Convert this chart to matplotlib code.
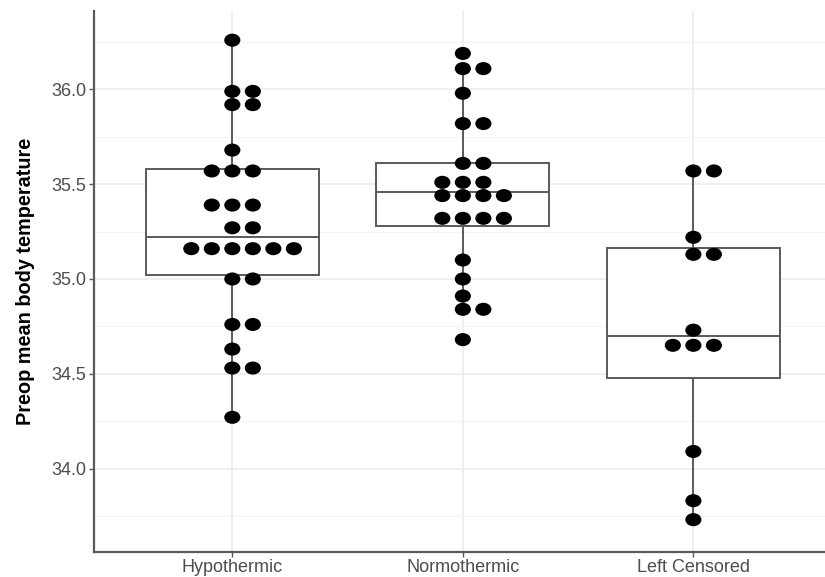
#!/usr/bin/env python3

import matplotlib
matplotlib.use("Agg")
import matplotlib.pyplot as plt
import numpy as np
from matplotlib.markers import MarkerStyle
from matplotlib.path import Path

# Data (dotplot bin centres, repeated per dot)
groups = ["Hypothermic", "Normothermic", "Left Censored"]

hypothermic = [36.26, 35.99, 35.99, 35.92, 35.92, 35.68,
               35.57, 35.57, 35.57, 35.39, 35.39, 35.39, 35.27, 35.27,
               35.16, 35.16, 35.16, 35.16, 35.16, 35.16,
               35.00, 35.00, 34.76, 34.76, 34.63, 34.53, 34.53, 34.27]
normothermic = [36.19, 36.11, 36.11, 35.98, 35.82, 35.82, 35.61, 35.61,
                35.51, 35.51, 35.51, 35.44, 35.44, 35.44, 35.44,
                35.32, 35.32, 35.32, 35.32, 35.10, 35.00, 34.91,
                34.84, 34.84, 34.68]
left_censored = [35.57, 35.57, 35.22, 35.13, 35.13, 34.73,
                 34.65, 34.65, 34.65, 34.09, 33.83, 33.73]

# Box statistics
q1 = [35.02, 35.28, 34.48]
median = [35.22, 35.46, 34.70]
q3 = [35.58, 35.61, 35.165]
whisker_lo = [34.27, 34.84, 33.73]
whisker_hi = [36.26, 36.11, 35.57]

values = [hypothermic, normothermic, left_censored]

fig = plt.figure(figsize=(8.25, 5.77), dpi=100)
ax = fig.add_axes([94 / 825, 25.3 / 577, (831.7 - 94) / 825, (551.7 - 11) / 577])

positions = np.arange(1, len(groups) + 1)

# Grid like ggplot
ax.set_yticks(np.arange(34.0, 36.01, 0.5))
ax.set_yticks(np.arange(33.75, 36.4, 0.5), minor=True)
ax.grid(True, which="major", color="#EBEBEB", linewidth=1.1, zorder=0)
ax.grid(True, which="minor", axis="y", color="#F4F4F4", linewidth=0.8, zorder=0)
ax.set_axisbelow(True)

stats = []
for i in range(len(groups)):
    stats.append({
        "med": median[i], "q1": q1[i], "q3": q3[i],
        "whislo": whisker_lo[i], "whishi": whisker_hi[i], "fliers": [],
    })

line = dict(color="#5A5A5A", linewidth=1.4)
ax.bxp(stats, positions=positions, widths=0.75, showcaps=False,
       patch_artist=True, showfliers=False,
       boxprops=dict(facecolor="white", edgecolor="#5A5A5A", linewidth=1.4),
       whiskerprops=line, medianprops=line, zorder=2)

# Elliptical dot marker (reference is stretched horizontally)
circle = Path.unit_circle()
ellipse = Path(circle.vertices * np.array([1.0, 0.81]), circle.codes)
dot = MarkerStyle(ellipse)

step = 0.089  # horizontal spacing between stacked dots
for pos, vals in zip(positions, values):
    vals = np.array(vals)
    for v in np.unique(vals):
        n = int(np.sum(vals == v))
        offsets = np.arange(n) - (n - 1) // 2
        ax.scatter(pos + offsets * step, np.full(n, v), marker=dot, s=135,
                   color="black", edgecolors="none", zorder=3)

ax.set_xlim(0.4, 3.6)
ax.set_ylim(33.561, 36.414)
ax.set_xticks(positions)
ax.set_xticklabels(groups)
ax.set_yticklabels([f"{t:.1f}" for t in np.arange(34.0, 36.01, 0.5)])

for side in ["top", "right"]:
    ax.spines[side].set_visible(False)
for side in ["left", "bottom"]:
    ax.spines[side].set_color("#5A5A5A")
    ax.spines[side].set_linewidth(1.6)

ax.tick_params(which="major", length=3.5, width=1, color="#5A5A5A",
               labelcolor="#4D4D4D", labelsize=13, pad=2)
ax.tick_params(which="minor", length=0)
for lab in ax.get_xticklabels() + ax.get_yticklabels():
    lab.set_family("Liberation Sans")

fig.text(26 / 825, 1 - 281 / 577, "Preop mean body temperature", rotation=90,
         ha="center", va="center", fontsize=14.3, fontweight="bold",
         family="Liberation Sans", color="black")

plt.savefig("out.png", dpi=100)
